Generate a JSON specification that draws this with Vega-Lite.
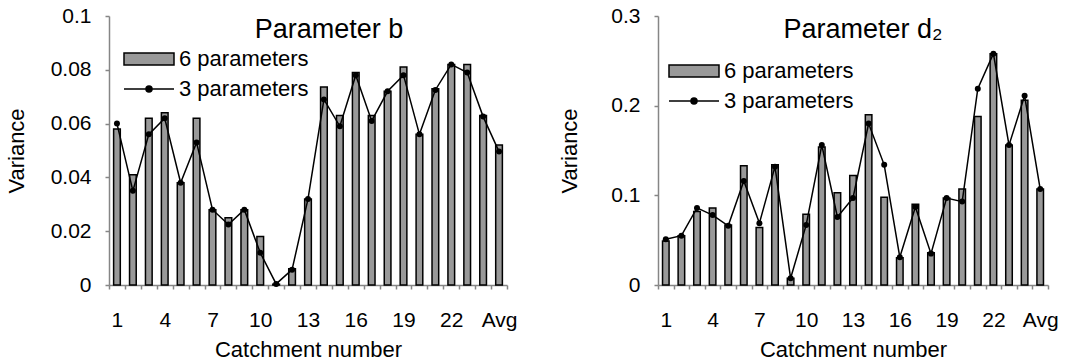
{
  "$schema": "https://vega.github.io/schema/vega-lite/v6.json",
  "background": "white",
  "padding": {"left": 5, "top": 5, "right": 5, "bottom": 5},
  "config": {
    "font": "Liberation Sans",
    "view": {"stroke": null},
    "concat": {"spacing": 41},
    "axis": {"labelFont": "Liberation Sans", "labelFontSize": 21, "labelColor": "black", "titleFont": "Liberation Sans", "titleFontSize": 22, "titleFontWeight": "normal", "titleColor": "black", "domainColor": "#868686", "domainWidth": 1.5, "tickColor": "#868686", "tickWidth": 1.5, "tickSize": 4, "grid": false},
    "title": {"font": "Liberation Sans", "fontSize": 27, "fontWeight": "normal", "color": "black"},
    "legend": {"labelFont": "Liberation Sans", "labelFontSize": 22, "labelColor": "black"}
  },
  "datasets": {
    "b": [
      {"catchment": "1", "series": "6 parameters", "value": 0.058},
      {"catchment": "2", "series": "6 parameters", "value": 0.041},
      {"catchment": "3", "series": "6 parameters", "value": 0.062},
      {"catchment": "4", "series": "6 parameters", "value": 0.064},
      {"catchment": "5", "series": "6 parameters", "value": 0.038},
      {"catchment": "6", "series": "6 parameters", "value": 0.062},
      {"catchment": "7", "series": "6 parameters", "value": 0.028},
      {"catchment": "8", "series": "6 parameters", "value": 0.025},
      {"catchment": "9", "series": "6 parameters", "value": 0.028},
      {"catchment": "10", "series": "6 parameters", "value": 0.018},
      {"catchment": "11", "series": "6 parameters", "value": 0.0003},
      {"catchment": "12", "series": "6 parameters", "value": 0.006},
      {"catchment": "13", "series": "6 parameters", "value": 0.032},
      {"catchment": "14", "series": "6 parameters", "value": 0.0736},
      {"catchment": "15", "series": "6 parameters", "value": 0.063},
      {"catchment": "16", "series": "6 parameters", "value": 0.079},
      {"catchment": "17", "series": "6 parameters", "value": 0.063},
      {"catchment": "18", "series": "6 parameters", "value": 0.072},
      {"catchment": "19", "series": "6 parameters", "value": 0.081},
      {"catchment": "20", "series": "6 parameters", "value": 0.056},
      {"catchment": "21", "series": "6 parameters", "value": 0.073},
      {"catchment": "22", "series": "6 parameters", "value": 0.082},
      {"catchment": "23", "series": "6 parameters", "value": 0.082},
      {"catchment": "24", "series": "6 parameters", "value": 0.063},
      {"catchment": "Avg", "series": "6 parameters", "value": 0.052},
      {"catchment": "1", "series": "3 parameters", "value": 0.060},
      {"catchment": "2", "series": "3 parameters", "value": 0.035},
      {"catchment": "3", "series": "3 parameters", "value": 0.056},
      {"catchment": "4", "series": "3 parameters", "value": 0.062},
      {"catchment": "5", "series": "3 parameters", "value": 0.038},
      {"catchment": "6", "series": "3 parameters", "value": 0.053},
      {"catchment": "7", "series": "3 parameters", "value": 0.028},
      {"catchment": "8", "series": "3 parameters", "value": 0.0225},
      {"catchment": "9", "series": "3 parameters", "value": 0.028},
      {"catchment": "10", "series": "3 parameters", "value": 0.012},
      {"catchment": "11", "series": "3 parameters", "value": 0.0004},
      {"catchment": "12", "series": "3 parameters", "value": 0.0057},
      {"catchment": "13", "series": "3 parameters", "value": 0.032},
      {"catchment": "14", "series": "3 parameters", "value": 0.069},
      {"catchment": "15", "series": "3 parameters", "value": 0.059},
      {"catchment": "16", "series": "3 parameters", "value": 0.078},
      {"catchment": "17", "series": "3 parameters", "value": 0.061},
      {"catchment": "18", "series": "3 parameters", "value": 0.072},
      {"catchment": "19", "series": "3 parameters", "value": 0.078},
      {"catchment": "20", "series": "3 parameters", "value": 0.056},
      {"catchment": "21", "series": "3 parameters", "value": 0.0725},
      {"catchment": "22", "series": "3 parameters", "value": 0.082},
      {"catchment": "23", "series": "3 parameters", "value": 0.079},
      {"catchment": "24", "series": "3 parameters", "value": 0.0626},
      {"catchment": "Avg", "series": "3 parameters", "value": 0.0496}
    ],
    "d2": [
      {"catchment": "1", "series": "6 parameters", "value": 0.049},
      {"catchment": "2", "series": "6 parameters", "value": 0.055},
      {"catchment": "3", "series": "6 parameters", "value": 0.082},
      {"catchment": "4", "series": "6 parameters", "value": 0.086},
      {"catchment": "5", "series": "6 parameters", "value": 0.067},
      {"catchment": "6", "series": "6 parameters", "value": 0.133},
      {"catchment": "7", "series": "6 parameters", "value": 0.064},
      {"catchment": "8", "series": "6 parameters", "value": 0.134},
      {"catchment": "9", "series": "6 parameters", "value": 0.0075},
      {"catchment": "10", "series": "6 parameters", "value": 0.079},
      {"catchment": "11", "series": "6 parameters", "value": 0.154},
      {"catchment": "12", "series": "6 parameters", "value": 0.103},
      {"catchment": "13", "series": "6 parameters", "value": 0.122},
      {"catchment": "14", "series": "6 parameters", "value": 0.19},
      {"catchment": "15", "series": "6 parameters", "value": 0.098},
      {"catchment": "16", "series": "6 parameters", "value": 0.0305},
      {"catchment": "17", "series": "6 parameters", "value": 0.09},
      {"catchment": "18", "series": "6 parameters", "value": 0.036},
      {"catchment": "19", "series": "6 parameters", "value": 0.097},
      {"catchment": "20", "series": "6 parameters", "value": 0.107},
      {"catchment": "21", "series": "6 parameters", "value": 0.188},
      {"catchment": "22", "series": "6 parameters", "value": 0.258},
      {"catchment": "23", "series": "6 parameters", "value": 0.156},
      {"catchment": "24", "series": "6 parameters", "value": 0.206},
      {"catchment": "Avg", "series": "6 parameters", "value": 0.107},
      {"catchment": "1", "series": "3 parameters", "value": 0.051},
      {"catchment": "2", "series": "3 parameters", "value": 0.055},
      {"catchment": "3", "series": "3 parameters", "value": 0.086},
      {"catchment": "4", "series": "3 parameters", "value": 0.078},
      {"catchment": "5", "series": "3 parameters", "value": 0.066},
      {"catchment": "6", "series": "3 parameters", "value": 0.116},
      {"catchment": "7", "series": "3 parameters", "value": 0.069},
      {"catchment": "8", "series": "3 parameters", "value": 0.132},
      {"catchment": "9", "series": "3 parameters", "value": 0.0075},
      {"catchment": "10", "series": "3 parameters", "value": 0.067},
      {"catchment": "11", "series": "3 parameters", "value": 0.156},
      {"catchment": "12", "series": "3 parameters", "value": 0.0758},
      {"catchment": "13", "series": "3 parameters", "value": 0.097},
      {"catchment": "14", "series": "3 parameters", "value": 0.18},
      {"catchment": "15", "series": "3 parameters", "value": 0.134},
      {"catchment": "16", "series": "3 parameters", "value": 0.031},
      {"catchment": "17", "series": "3 parameters", "value": 0.087},
      {"catchment": "18", "series": "3 parameters", "value": 0.035},
      {"catchment": "19", "series": "3 parameters", "value": 0.097},
      {"catchment": "20", "series": "3 parameters", "value": 0.093},
      {"catchment": "21", "series": "3 parameters", "value": 0.219},
      {"catchment": "22", "series": "3 parameters", "value": 0.258},
      {"catchment": "23", "series": "3 parameters", "value": 0.156},
      {"catchment": "24", "series": "3 parameters", "value": 0.211},
      {"catchment": "Avg", "series": "3 parameters", "value": 0.107}
    ]
  },
  "hconcat": [
    {
      "width": 398, "height": 269,
      "data": {"name": "b"},
      "title": {"text": "Parameter b", "offset": -39, "dx": 21, "frame": "group"},
      "encoding": {
        "x": {"field": "catchment", "type": "nominal", "sort": null, "scale": {"paddingInner": 0, "paddingOuter": 0},
          "axis": {"title": "Catchment number", "labelAngle": 0, "tickBand": "extent", "labelPadding": 20, "titlePadding": 9, "labelOverlap": false,
            "labelExpr": "indexof(['1','4','7','10','13','16','19','22','Avg'], datum.label) >= 0 ? datum.label : ''"}},
        "y": {"field": "value", "type": "quantitative", "scale": {"domain": [0, 0.1], "nice": false},
          "axis": {"title": "Variance", "values": [0, 0.02, 0.04, 0.06, 0.08, 0.1], "format": ".2~f", "labelPadding": 14, "titlePadding": 22}}
      },
      "layer": [
        {"transform": [{"filter": "datum.series === '6 parameters'"}], "mark": {"type": "bar", "stroke": "black", "strokeWidth": 1.5, "width": {"band": 0.42}},
          "encoding": {"color": {"field": "series", "type": "nominal", "scale": {"domain": ["6 parameters", "3 parameters"], "range": ["#999999", "#000000"]},
            "legend": {"orient": "none", "legendX": 29, "legendY": 32, "title": null, "labelOffset": 19, "symbolSize": 400, "rowPadding": 8, "padding": 0,
              "symbolStrokeColor": "#000000", "symbolStrokeWidth": 1.5, "symbolOpacity": 1,
              "encode": {"symbols": {"update": {
                "shape": {"signal": "datum.value === '6 parameters' ? 'M-2.5,-0.6H2.5V0.6H-2.5Z' : 'M-2.5,0H2.5M-0.3,0A0.3,0.3,0,1,0,0.3,0A0.3,0.3,0,1,0,-0.3,0'"},
                "stroke": {"value": "#000000"}, "strokeWidth": {"value": 1.5}}}}}}}},
        {"transform": [{"filter": "datum.series === '3 parameters'"}], "mark": {"type": "line", "strokeWidth": 1.5, "color": "#000000"}},
        {"transform": [{"filter": "datum.series === '3 parameters'"}], "mark": {"type": "point", "filled": true, "size": 36, "opacity": 1, "color": "#000000"}}
      ]
    },
    {
      "width": 390, "height": 269,
      "data": {"name": "d2"},
      "title": {"text": "Parameter d₂", "offset": -39, "dx": 10, "frame": "group"},
      "encoding": {
        "x": {"field": "catchment", "type": "nominal", "sort": null, "scale": {"paddingInner": 0, "paddingOuter": 0},
          "axis": {"title": "Catchment number", "labelAngle": 0, "tickBand": "extent", "labelPadding": 20, "titlePadding": 9, "labelOverlap": false,
            "labelExpr": "indexof(['1','4','7','10','13','16','19','22','Avg'], datum.label) >= 0 ? datum.label : ''"}},
        "y": {"field": "value", "type": "quantitative", "scale": {"domain": [0, 0.3], "nice": false},
          "axis": {"title": "Variance", "values": [0, 0.1, 0.2, 0.3], "format": ".1~f", "labelPadding": 14, "titlePadding": 29}}
      },
      "layer": [
        {"transform": [{"filter": "datum.series === '6 parameters'"}], "mark": {"type": "bar", "stroke": "black", "strokeWidth": 1.5, "width": {"band": 0.42}},
          "encoding": {"color": {"field": "series", "type": "nominal", "scale": {"domain": ["6 parameters", "3 parameters"], "range": ["#999999", "#000000"]},
            "legend": {"orient": "none", "legendX": 25, "legendY": 44, "title": null, "labelOffset": 19, "symbolSize": 400, "rowPadding": 8, "padding": 0,
              "symbolStrokeColor": "#000000", "symbolStrokeWidth": 1.5, "symbolOpacity": 1,
              "encode": {"symbols": {"update": {
                "shape": {"signal": "datum.value === '6 parameters' ? 'M-2.5,-0.6H2.5V0.6H-2.5Z' : 'M-2.5,0H2.5M-0.3,0A0.3,0.3,0,1,0,0.3,0A0.3,0.3,0,1,0,-0.3,0'"},
                "stroke": {"value": "#000000"}, "strokeWidth": {"value": 1.5}}}}}}}},
        {"transform": [{"filter": "datum.series === '3 parameters'"}], "mark": {"type": "line", "strokeWidth": 1.5, "color": "#000000"}},
        {"transform": [{"filter": "datum.series === '3 parameters'"}], "mark": {"type": "point", "filled": true, "size": 36, "opacity": 1, "color": "#000000"}}
      ]
    }
  ],
  "resolve": {"scale": {"color": "independent", "y": "independent", "x": "independent"}, "legend": {"color": "independent"}}
}
